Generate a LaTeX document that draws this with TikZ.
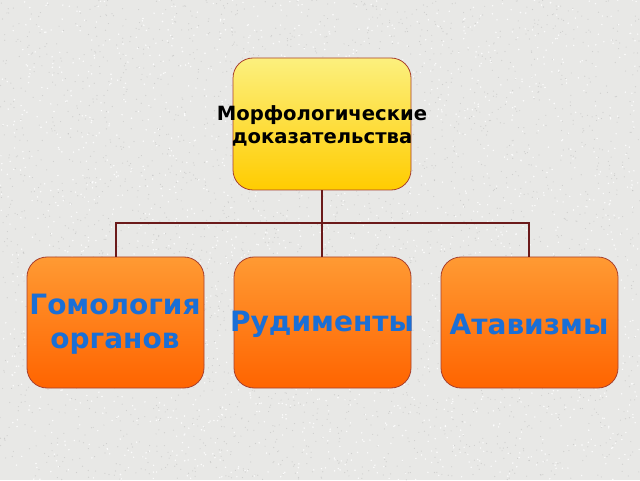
\documentclass[tikz,border=0pt]{standalone}
\usepackage{fontspec}
\setmainfont{DejaVu Sans}
\usetikzlibrary{positioning}
\definecolor{bgc}{HTML}{E8E8E6}
\definecolor{lnc}{HTML}{6B1A1A}
\definecolor{brd}{HTML}{A8402E}
\definecolor{ytop}{HTML}{FCF07E}
\definecolor{ybot}{HTML}{FFCC00}
\definecolor{otop}{HTML}{FF9A33}
\definecolor{obot}{HTML}{FF6400}
\definecolor{bluet}{HTML}{1A6FD6}
\tikzset{
  x=1pt,y=1pt,
  topbox/.style={draw=brd, line width=0.8pt, rounded corners=20pt, top color=ytop, bottom color=ybot,
    minimum width=178pt, minimum height=132pt, inner sep=0pt},
  toptextstyle/.style={font=\bfseries\fontsize{19.6}{23}\selectfont, align=center, text=black, inner sep=0pt},
  leafbox/.style={draw=brd, line width=0.8pt, rounded corners=20pt, top color=otop, bottom color=obot,
    minimum width=177pt, minimum height=131pt, inner sep=0pt},
  leaftext/.style={font=\bfseries\fontsize{28}{34}\selectfont, align=center, text=bluet, inner sep=0pt},
  conn/.style={draw=lnc, line width=2.8pt}
}
\begin{document}
\begin{tikzpicture}
\fill[bgc] (0,0) rectangle (640,480);
\useasboundingbox (0,0) rectangle (640,480);
% speckle texture
\pgfmathsetseed{7}
\foreach \i in {1,...,3000}{
  \pgfmathsetmacro{\px}{rnd*640}
  \pgfmathsetmacro{\py}{rnd*480}
  \fill[black!30, opacity=0.45] (\px,\py) circle (0.6);
}
\foreach \i in {1,...,2000}{
  \pgfmathsetmacro{\px}{rnd*640}
  \pgfmathsetmacro{\py}{rnd*480}
  \fill[white, opacity=0.9] (\px,\py) circle (0.8);
}
\coordinate (junction) at (322,257);
\coordinate (jl) at (116,257);
\coordinate (jr) at (529,257);
\node[topbox] (top) at (322,356) {};
\node[leafbox] (b1) at (115.5,157.5) {};
\node[leafbox] (b2) at (322.5,157.5) {};
\node[leafbox] (b3) at (529.5,157.5) {};
\draw[conn] (top.south) -- (junction);
\draw[conn, line join=miter] (b1.north -| jl) -- (jl) -- (jr) -- (b3.north -| jr);
\draw[conn] (junction) -- (b2.north -| junction);
\node[toptextstyle] (toptext) at (322,354) {Морфологические\\доказательства};
\node[leaftext] (t1) at (115,156) {Гомология\\органов};
\node[leaftext] (t2) at (322,156) {Рудименты};
\node[leaftext] (t3) at (529,156) {Атавизмы};
\end{tikzpicture}
\end{document}
